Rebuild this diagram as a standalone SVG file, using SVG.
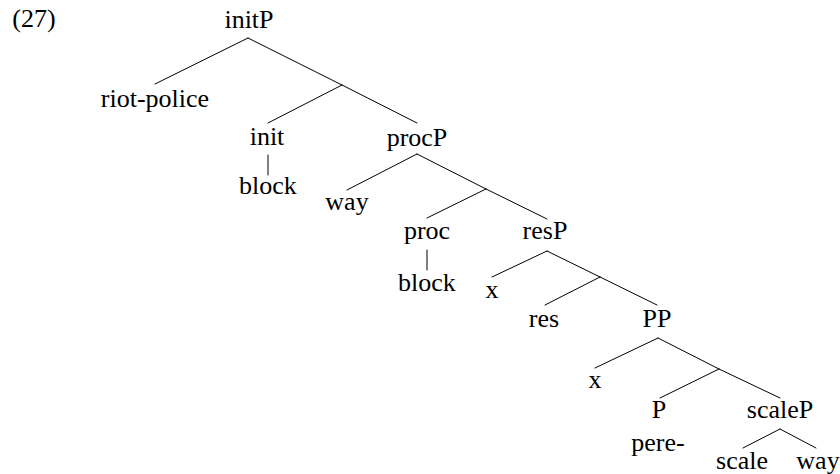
<svg xmlns="http://www.w3.org/2000/svg" width="840" height="474" viewBox="0 0 840 474">
  <rect width="840" height="474" fill="#fff"/>

  <!-- example number -->
  <text id="exnum" x="34" y="27" font-size="26" text-anchor="middle" font-family="Liberation Serif">(27)</text>

  <!-- tree branches -->
  <g id="edges" stroke="#000" stroke-width="1" fill="none" stroke-linecap="round">
    <line x1="248" y1="38" x2="155" y2="84"/>
    <line x1="248" y1="38" x2="342" y2="85"/>
    <line x1="342" y1="85" x2="268" y2="123"/>
    <line x1="342" y1="85" x2="417" y2="123"/>
    <line x1="268" y1="155" x2="268" y2="175"/>
    <line x1="417" y1="154" x2="347" y2="190"/>
    <line x1="417" y1="154" x2="486" y2="189"/>
    <line x1="486" y1="189" x2="427" y2="218"/>
    <line x1="486" y1="189" x2="547" y2="219"/>
    <line x1="427" y1="250" x2="427" y2="270"/>
    <line x1="547" y1="251" x2="492" y2="277"/>
    <line x1="547" y1="251" x2="600" y2="277"/>
    <line x1="600" y1="277" x2="545" y2="305"/>
    <line x1="600" y1="277" x2="657" y2="305"/>
    <line x1="658" y1="338" x2="595" y2="368"/>
    <line x1="658" y1="338" x2="719" y2="369"/>
    <line x1="719" y1="369" x2="660" y2="398"/>
    <line x1="719" y1="369" x2="780" y2="398"/>
    <line x1="780" y1="429" x2="743" y2="448"/>
    <line x1="780" y1="429" x2="816" y2="448"/>
  </g>

  <!-- tree nodes -->
  <g id="initP"><text x="249" y="28" font-size="26" text-anchor="middle" font-family="Liberation Serif">initP</text></g>
  <g id="riot-police"><text x="155" y="107" font-size="26" text-anchor="middle" font-family="Liberation Serif">riot-police</text></g>
  <g id="init"><text x="267" y="145" font-size="26" text-anchor="middle" font-family="Liberation Serif">init</text></g>
  <g id="init-block"><text x="268" y="194" font-size="26" text-anchor="middle" font-family="Liberation Serif">block</text></g>
  <g id="procP"><text x="417" y="146" font-size="26" text-anchor="middle" font-family="Liberation Serif">procP</text></g>
  <g id="way-1"><text x="347" y="210" font-size="26" text-anchor="middle" font-family="Liberation Serif">way</text></g>
  <g id="proc"><text x="427" y="239" font-size="26" text-anchor="middle" font-family="Liberation Serif">proc</text></g>
  <g id="proc-block"><text x="427" y="291" font-size="26" text-anchor="middle" font-family="Liberation Serif">block</text></g>
  <g id="resP"><text x="545" y="239" font-size="26" text-anchor="middle" font-family="Liberation Serif">resP</text></g>
  <g id="x-1"><text x="492" y="298" font-size="26" text-anchor="middle" font-family="Liberation Serif">x</text></g>
  <g id="res"><text x="544" y="327" font-size="26" text-anchor="middle" font-family="Liberation Serif">res</text></g>
  <g id="PP"><text x="657" y="327" font-size="26" text-anchor="middle" font-family="Liberation Serif">PP</text></g>
  <g id="x-2"><text x="595" y="388" font-size="26" text-anchor="middle" font-family="Liberation Serif">x</text></g>
  <g id="P"><text x="659" y="418" font-size="26" text-anchor="middle" font-family="Liberation Serif">P</text></g>
  <g id="pere"><text x="658" y="451" font-size="26" text-anchor="middle" font-family="Liberation Serif">pere-</text></g>
  <g id="scaleP"><text x="780" y="418" font-size="26" text-anchor="middle" font-family="Liberation Serif">scaleP</text></g>
  <g id="scale"><text x="742" y="469" font-size="26" text-anchor="middle" font-family="Liberation Serif">scale</text></g>
  <g id="way-2"><text x="818" y="469" font-size="26" text-anchor="middle" font-family="Liberation Serif">way</text></g>
</svg>
